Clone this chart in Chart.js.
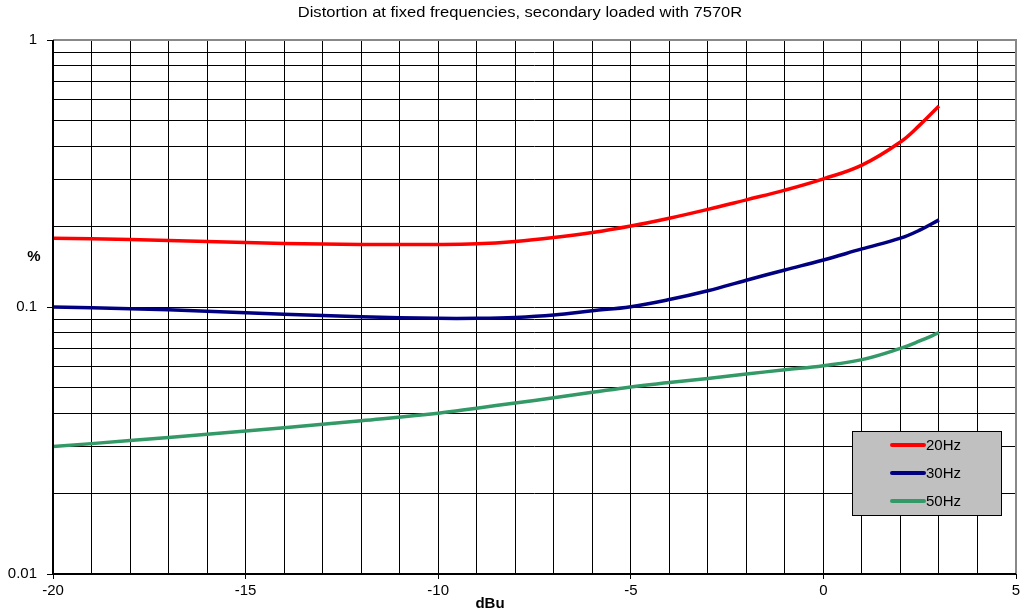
<!DOCTYPE html>
<html>
<head>
<meta charset="utf-8">
<script src="https://cdn.jsdelivr.net/npm/chart.js@4/dist/chart.umd.min.js"></script>
<style>
  body { margin: 0; background: #fff; }
  canvas { display: block; }
</style>
</head>
<body>
<canvas id="chart" width="1035" height="614"></canvas>
<script>
// Valores
const dbu = [-20, -18, -16, -14, -12, -10, -9, -8, -7, -6, -5, -4, -3, -2, -1, 0, 1, 2, 2.5, 3];
const hz20 = [0.181, 0.179, 0.176, 0.173, 0.1715, 0.1715, 0.1725, 0.176, 0.182, 0.190, 0.201, 0.215, 0.232, 0.252, 0.274, 0.302, 0.34, 0.415, 0.48, 0.566];
const hz30 = [0.100, 0.0985, 0.0965, 0.094, 0.092, 0.0907, 0.0907, 0.0914, 0.0933, 0.0968, 0.1003, 0.1066, 0.115, 0.126, 0.1376, 0.150, 0.165, 0.181, 0.194, 0.212];
const hz50 = [0.030, 0.0316, 0.0334, 0.0353, 0.0375, 0.040, 0.0418, 0.0437, 0.0457, 0.0479, 0.0502, 0.0521, 0.054, 0.0561, 0.0582, 0.0603, 0.0635, 0.070, 0.0746, 0.0801];
const seriesNames = ['20Hz', '30Hz', '50Hz'];
const seriesColors = ['#ff0000', '#000080', '#339966'];
const yTickLabels = [0.01, 0.1, 1];
const xTickLabels = [-20, -15, -10, -5, 0, 5];

const FONT = '"Liberation Sans", Arial, sans-serif';

function points(vals) {
    return dbu.map((x, i) => ({ x: x, y: vals[i] }));
}

// Rejilla logarítmica: 1..9 por década
const yGrid = [];
for (let d = 0.01; d < 0.99; d *= 10) {
    for (let k = 1; k < 10; k++) yGrid.push(+(d * k).toPrecision(3));
}
yGrid.push(1);

// Texto estirado en horizontal, como en el original
function wideText(ctx, text, x, y, sx) {
    ctx.save();
    ctx.translate(x, y);
    ctx.scale(sx, 1);
    ctx.fillText(text, 0, 0);
    ctx.restore();
}

// Textos y leyenda dibujados a mano
const extras = {
    id: 'extras',
    afterDraw(chart) {
        const ctx = chart.ctx;
        const a = chart.chartArea;
        ctx.save();
        // bordes superior y derecho en gris
        ctx.strokeStyle = '#888';
        ctx.lineWidth = 2;
        ctx.beginPath();
        ctx.moveTo(a.left, a.top);
        ctx.lineTo(a.right, a.top);
        ctx.lineTo(a.right, a.bottom);
        ctx.stroke();
        // ejes izquierdo e inferior en negro
        ctx.strokeStyle = '#000';
        ctx.beginPath();
        ctx.moveTo(a.left, a.top);
        ctx.lineTo(a.left, a.bottom);
        ctx.lineTo(a.right, a.bottom);
        ctx.stroke();

        ctx.fillStyle = '#000';
        ctx.textAlign = 'center';
        ctx.textBaseline = 'middle';
        ctx.font = '14px ' + FONT;
        wideText(ctx, 'Distortion at fixed frequencies, secondary loaded with 7570R', 520, 13, 1.18);
        ctx.font = 'bold 15px ' + FONT;
        ctx.fillText('dBu', 490, 604);
        ctx.fillText('%', 34, 257);

        // leyenda
        const lx = 852, ly = 431, lw = 149, lh = 84;
        ctx.fillStyle = '#c0c0c0';
        ctx.fillRect(lx, ly, lw, lh);
        ctx.strokeStyle = '#000';
        ctx.lineWidth = 1;
        ctx.strokeRect(lx + 0.5, ly + 0.5, lw, lh);
        ctx.font = '15px ' + FONT;
        ctx.textAlign = 'left';
        chart.data.datasets.forEach((ds, i) => {
            const y = ly + 14 + i * 28;
            ctx.strokeStyle = ds.borderColor;
            ctx.lineWidth = 4;
            ctx.lineCap = 'round';
            ctx.beginPath();
            ctx.moveTo(892, y);
            ctx.lineTo(924, y);
            ctx.stroke();
            ctx.fillStyle = '#000';
            ctx.fillText(ds.label, 926, y + 1);
        });
        ctx.restore();
    }
};

new Chart(document.getElementById('chart').getContext('2d'), {
    type: 'line',
    data: {
        datasets: [hz20, hz30, hz50].map((vals, i) => ({
            label: seriesNames[i],
            data: points(vals),
            borderColor: seriesColors[i],
            backgroundColor: seriesColors[i],
            borderWidth: 3.5,
            pointRadius: 0,
            tension: 0.4,
            fill: false
        }))
    },
    options: {
        responsive: false,
        animation: false,
        devicePixelRatio: 1,
        layout: { padding: { top: 40, right: 19, left: 0, bottom: 0 } },
        plugins: {
            legend: { display: false },
            title: { display: false },
            tooltip: { enabled: false }
        },
        scales: {
            x: {
                type: 'linear',
                min: -20,
                max: 5,
                border: { display: false },
                grid: {
                    color: '#000',
                    lineWidth: 1,
                    tickLength: 5,
                    tickColor: c => xTickLabels.includes(c.tick.value) ? '#000' : 'rgba(0,0,0,0)'
                },
                ticks: {
                    stepSize: 1,
                    autoSkip: false,
                    maxRotation: 0,
                    padding: 3,
                    color: '#000',
                    font: { family: FONT, size: 15 },
                    callback: v => xTickLabels.includes(v) ? String(v) : ''
                },
                afterFit: s => { s.height = 40; }
            },
            y: {
                type: 'logarithmic',
                min: 0.01,
                max: 1,
                border: { display: false },
                afterBuildTicks: s => { s.ticks = yGrid.map(v => ({ value: v })); },
                grid: {
                    color: '#000',
                    lineWidth: 1,
                    tickLength: 6,
                    tickColor: c => yTickLabels.includes(c.tick.value) ? '#000' : 'rgba(0,0,0,0)'
                },
                ticks: {
                    autoSkip: false,
                    padding: 10,
                    color: '#000',
                    font: { family: FONT, size: 15 },
                    callback: v => yTickLabels.includes(v) ? String(v) : ''
                },
                afterFit: s => { s.width = 53; }
            }
        }
    },
    plugins: [extras]
});
</script>
</body>
</html>
